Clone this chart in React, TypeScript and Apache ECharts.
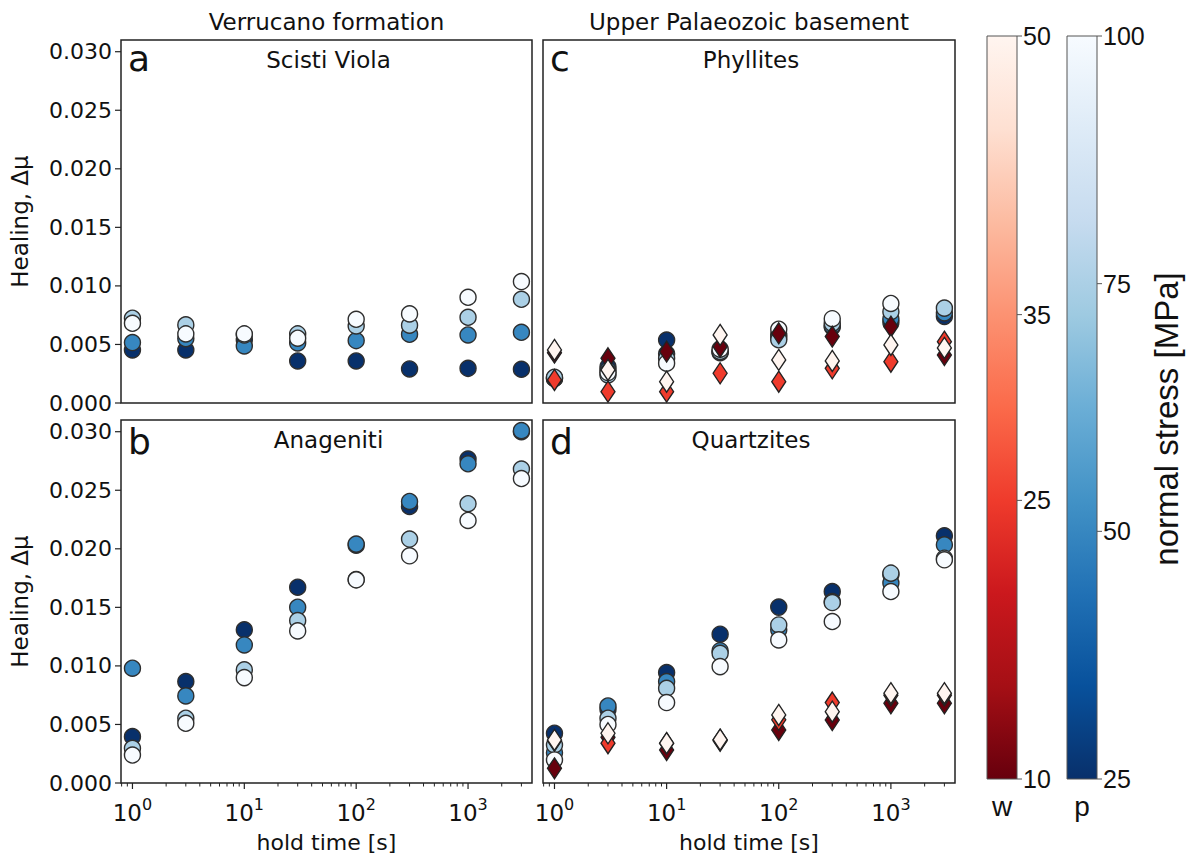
import React, { useEffect, useRef } from 'react';
import * as echarts from 'echarts';

// ---------------- data ----------------
const holdTimes = [1, 3, 10, 30, 100, 300, 1000, 3000];
const stressLevels = [25, 50, 75, 100]; // normal stress [MPa]
const waterLevels = [10, 25, 50]; // w

// (a) Scisti Viola – healing per normal stress
const sv25 = [0.00453, 0.00453, 0.00538, 0.00359, 0.00359, 0.00291, 0.00296, 0.00288];
const sv50 = [0.00516, 0.0055, 0.00487, 0.00513, 0.00533, 0.00587, 0.00581, 0.00604];
const sv75 = [0.00724, 0.00667, 0.0058, 0.0059, 0.00658, 0.00664, 0.00732, 0.00886];
const sv100 = [0.00681, 0.0059, 0.0059, 0.00553, 0.00715, 0.00761, 0.00903, 0.01037];

// (b) Anageniti
const an25 = [0.00396, 0.00866, 0.01308, 0.01672, 0.0203, 0.02362, 0.02766, 0.03];
const an50 = [0.0098, 0.00744, 0.01179, 0.01501, 0.0204, 0.02404, 0.02726, 0.03009];
const an75 = [0.00296, 0.00553, 0.00966, 0.01387, 0.01738, 0.02083, 0.02385, 0.02681];
const an100 = [0.00239, 0.0051, 0.009, 0.01299, 0.01735, 0.0194, 0.02242, 0.026];

// (c) Phyllites – circles (normal stress)
const ph25 = [0.0021, 0.0031, 0.00538, 0.0043, 0.0058, 0.0065, 0.0069, 0.0074];
const ph50 = [0.0021, 0.0028, 0.0042, 0.0044, 0.0056, 0.0066, 0.0072, 0.0077];
const ph75 = [0.0022, 0.0024, 0.00382, 0.0044, 0.0054, 0.0068, 0.0078, 0.0081];
const ph100 = [null, 0.0026, 0.0034, 0.0046, 0.0063, 0.0072, 0.0085, null];
// (c) Phyllites – diamonds (w)
const phW10 = [0.0043, 0.00382, 0.00439, 0.00481, 0.00595, 0.00567, 0.00652, 0.0041];
const phW25 = [0.00197, 0.00097, 0.00097, 0.00254, 0.00182, 0.00296, 0.00353, 0.00524];
const phW50 = [0.00453, 0.00282, 0.00182, 0.00581, 0.00368, 0.00359, 0.00496, 0.0047];

// (d) Quartzites – circles
const qz25 = [0.00425, 0.0063, 0.00943, 0.01271, 0.01502, 0.01635, 0.0178, 0.02111];
const qz50 = [0.00259, 0.00658, 0.00866, 0.0113, 0.01308, 0.0155, 0.01707, 0.02034];
const qz75 = [0.00325, 0.00553, 0.00809, 0.01108, 0.0135, 0.01541, 0.01792, 0.0192];
const qz100 = [0.00197, 0.005, 0.00687, 0.00994, 0.01222, 0.01379, 0.01635, 0.01906];
// (d) Quartzites – diamonds
const qzW10 = [0.00125, 0.0039, 0.00282, 0.0036, 0.00453, 0.00538, 0.00681, 0.00681];
const qzW25 = [0.0036, 0.0034, 0.0034, 0.0037, 0.0054, 0.00687, 0.0075, 0.0075];
const qzW50 = [0.00368, 0.00425, 0.0034, 0.0037, 0.00581, 0.00609, 0.00767, 0.00767];

// axis / colorbar ticks
const xMajorTicks = [1, 10, 100, 1000];
const yTicks = [0, 0.005, 0.01, 0.015, 0.02, 0.025, 0.03];
const wTicks = [10, 25, 35, 50];
const pTicks = [25, 50, 75, 100];
const W_RANGE = [10, 50];
const P_RANGE = [25, 100];
const X_MIN = 0.79;
const X_MAX = 3730;
const Y_MIN = 0;
const Y_MAX = 0.031;

// ---------------- styling ----------------
const REDS = ['#fff5f0', '#fee0d2', '#fcbba1', '#fc9272', '#fb6a4a', '#ef3b2c', '#cb181d', '#a50f15', '#67000d'];
const BLUES = ['#f7fbff', '#deebf7', '#c6dbef', '#9ecae1', '#6baed6', '#4292c6', '#2171b5', '#08519c', '#08306b'];

function hexToRgb(h: string) {
  const n = parseInt(h.slice(1), 16);
  return [(n >> 16) & 255, (n >> 8) & 255, n & 255];
}
function cmap(stops: string[], t: number) {
  const tt = Math.max(0, Math.min(1, t));
  const pos = tt * (stops.length - 1);
  const i = Math.min(Math.floor(pos), stops.length - 2);
  const f = pos - i;
  const a = hexToRgb(stops[i]);
  const b = hexToRgb(stops[i + 1]);
  const c = a.map((v, k) => Math.round(v + (b[k] - v) * f));
  return `rgb(${c[0]},${c[1]},${c[2]})`;
}
const stressColor = (p: number) => cmap(BLUES, (P_RANGE[1] - p) / (P_RANGE[1] - P_RANGE[0]));
const waterColor = (w: number) => cmap(REDS, (W_RANGE[1] - w) / (W_RANGE[1] - W_RANGE[0]));

const GRIDS = [
  { left: 121, top: 40, width: 411, height: 363 }, // a
  { left: 121, top: 420, width: 411, height: 363 }, // b
  { left: 543, top: 40, width: 412, height: 363 }, // c
  { left: 543, top: 420, width: 412, height: 363 }, // d
];

const panels = [
  { letter: 'a', name: 'Scisti Viola', circles: [sv25, sv50, sv75, sv100], diamonds: null as any, isLeft: true, isBottom: false },
  { letter: 'b', name: 'Anageniti', circles: [an25, an50, an75, an100], diamonds: null as any, isLeft: true, isBottom: true },
  { letter: 'c', name: 'Phyllites', circles: [ph25, ph50, ph75, ph100], diamonds: [phW10, phW25, phW50], isLeft: false, isBottom: false },
  { letter: 'd', name: 'Quartzites', circles: [qz25, qz50, qz75, qz100], diamonds: [qzW10, qzW25, qzW50], isLeft: false, isBottom: true },
];

const AX_FONT = 'DejaVu Sans';
const CB_FONT = 'Liberation Sans';
const INK = '#111';

function toPoints(vals: (number | null)[]) {
  const out: number[][] = [];
  vals.forEach((v, i) => {
    if (v !== null && v !== undefined) out.push([holdTimes[i], v]);
  });
  return out;
}

export default function App() {
  const ref = useRef<HTMLDivElement>(null);
  useEffect(() => {
    if (!ref.current) return;
    const chart = echarts.init(ref.current, null, { renderer: 'svg' });

    const series: any[] = [];
    panels.forEach((p, gi) => {
      p.circles.forEach((vals: any, k: number) => {
        series.push({
          type: 'scatter',
          name: `${p.name} ${stressLevels[k]} MPa`,
          xAxisIndex: gi,
          yAxisIndex: gi,
          symbol: 'circle',
          symbolSize: 16,
          z: 2,
          data: toPoints(vals),
          itemStyle: { color: stressColor(stressLevels[k]), borderColor: '#2e2e2e', borderWidth: 1.4, opacity: 1 },
        });
      });
      if (p.diamonds) {
        p.diamonds.forEach((vals: any, k: number) => {
          series.push({
            type: 'scatter',
            name: `${p.name} w${waterLevels[k]}`,
            xAxisIndex: gi,
            yAxisIndex: gi,
            symbol: 'diamond',
            symbolSize: [14, 21],
            z: 3,
            data: toPoints(vals),
            itemStyle: { color: waterColor(waterLevels[k]), borderColor: '#222', borderWidth: 1.4, opacity: 1 },
          });
        });
      }
    });

    const option: any = {
      animation: false,
      backgroundColor: '#fff',
      grid: GRIDS.map((g) => ({ ...g, show: true, borderColor: '#222', borderWidth: 1.5, backgroundColor: 'transparent' })),
      xAxis: panels.map((p, gi) => ({
        type: 'log',
        logBase: 10,
        gridIndex: gi,
        min: X_MIN,
        max: X_MAX,
        axisLine: { show: false },
        axisTick: { show: false },
        axisLabel: { show: false },
        splitLine: { show: false },
      })),
      yAxis: panels.map((p, gi) => ({
        type: 'value',
        gridIndex: gi,
        min: Y_MIN,
        max: Y_MAX,
        interval: 0.005,
        axisLine: { show: false },
        axisTick: { show: false },
        splitLine: { show: false },
        axisLabel: {
          show: p.isLeft,
          showMaxLabel: false,
          formatter: (v: number) => v.toFixed(3),
          fontSize: 22,
          fontFamily: AX_FONT,
          color: INK,
          margin: 9,
        },
      })),
      series,
    };
    chart.setOption(option);

    // ---- second pass: ticks, labels, colorbars ----
    const px = (gi: number, v: number) => chart.convertToPixel({ xAxisIndex: gi } as any, v) as unknown as number;
    const py = (gi: number, v: number) => chart.convertToPixel({ yAxisIndex: gi } as any, v) as unknown as number;
    const tickStyle = { stroke: '#222', lineWidth: 1.2 };
    const g: any[] = [];

    const minorTicks: number[] = [];
    [0.1, 1, 10, 100, 1000].forEach((d) => {
      for (let m = 2; m <= 9; m++) {
        const v = m * d;
        if (v >= X_MIN && v <= X_MAX) minorTicks.push(v);
      }
    });

    panels.forEach((p, gi) => {
      const gr = GRIDS[gi];
      const bottom = gr.top + gr.height;
      // panel letter and name
      g.push({
        type: 'text', silent: true,
        x: gr.left + 7, y: gr.top + (p.isBottom ? 21 : 18),
        style: { text: p.letter, fontSize: 36, fontFamily: AX_FONT, fill: INK, align: 'left', verticalAlign: 'middle' },
      });
      g.push({
        type: 'text', silent: true,
        x: gr.left + gr.width / 2 + 2, y: gr.top + 20,
        style: { text: p.name, fontSize: 23, fontFamily: AX_FONT, fill: INK, align: 'center', verticalAlign: 'middle' },
      });
      if (p.isBottom) {
        xMajorTicks.forEach((v) => {
          const x = px(gi, v);
          g.push({ type: 'line', silent: true, shape: { x1: x, y1: bottom, x2: x, y2: bottom + 6 }, style: tickStyle });
          const e = Math.round(Math.log10(v));
          g.push({
            type: 'text', silent: true, x, y: bottom + 13,
            style: {
              text: `{b|10}{s|${e}}`,
              align: 'center',
              verticalAlign: 'top',
              rich: {
                b: { fontSize: 23, fontFamily: AX_FONT, fill: INK, lineHeight: 28, verticalAlign: 'bottom' },
                s: { fontSize: 16, fontFamily: AX_FONT, fill: INK, verticalAlign: 'top' },
              },
            },
          });
        });
        minorTicks.forEach((v) => {
          const x = px(gi, v);
          g.push({ type: 'line', silent: true, shape: { x1: x, y1: bottom, x2: x, y2: bottom + 3.5 }, style: { stroke: '#222', lineWidth: 1 } });
        });
        g.push({
          type: 'text', silent: true, x: gr.left + gr.width / 2, y: bottom + 48,
          style: { text: 'hold time [s]', fontSize: 22, fontFamily: AX_FONT, fill: INK, align: 'center', verticalAlign: 'top' },
        });
      }
      if (p.isLeft) {
        yTicks.forEach((v) => {
          const y = py(gi, v);
          g.push({ type: 'line', silent: true, shape: { x1: gr.left - 6, y1: y, x2: gr.left, y2: y }, style: tickStyle });
        });
        g.push({
          type: 'text', silent: true, x: 20, y: gr.top + gr.height / 2, rotation: Math.PI / 2,
          style: { text: 'Healing, Δμ', fontSize: 23, fontFamily: AX_FONT, fill: INK, align: 'center', verticalAlign: 'middle' },
        });
      }
    });

    // column headers
    g.push({
      type: 'text', silent: true, x: GRIDS[0].left + GRIDS[0].width / 2, y: 22,
      style: { text: 'Verrucano formation', fontSize: 23, fontFamily: AX_FONT, fill: INK, align: 'center', verticalAlign: 'middle' },
    });
    g.push({
      type: 'text', silent: true, x: GRIDS[2].left + GRIDS[2].width / 2, y: 22,
      style: { text: 'Upper Palaeozoic basement', fontSize: 23, fontFamily: AX_FONT, fill: INK, align: 'center', verticalAlign: 'middle' },
    });

    // colorbars
    const CB_TOP = 36;
    const CB_BOTTOM = 779;
    const cbH = CB_BOTTOM - CB_TOP;
    const bars = [
      { x: 987, stops: REDS, ticks: wTicks, range: W_RANGE, label: 'w' },
      { x: 1067, stops: BLUES, ticks: pTicks, range: P_RANGE, label: 'p' },
    ];
    bars.forEach((b) => {
      const w = 30;
      g.push({
        type: 'rect', silent: true,
        shape: { x: b.x, y: CB_TOP, width: w, height: cbH },
        style: {
          fill: new echarts.graphic.LinearGradient(0, 0, 0, 1, b.stops.map((c, i) => ({ offset: i / (b.stops.length - 1), color: c }))),
          stroke: '#555', lineWidth: 1,
        },
      });
      b.ticks.forEach((v) => {
        const y = CB_TOP + ((b.range[1] - v) / (b.range[1] - b.range[0])) * cbH;
        g.push({ type: 'line', silent: true, shape: { x1: b.x + w, y1: y, x2: b.x + w + 5, y2: y }, style: { stroke: '#555', lineWidth: 1 } });
        g.push({
          type: 'text', silent: true, x: b.x + w + 6, y,
          style: { text: String(v), fontSize: 25, fontFamily: CB_FONT, fill: INK, align: 'left', verticalAlign: 'middle' },
        });
      });
      g.push({
        type: 'text', silent: true, x: b.x + w / 2, y: 806,
        style: { text: b.label, fontSize: 28, fontFamily: CB_FONT, fill: INK, align: 'center', verticalAlign: 'middle' },
      });
    });
    g.push({
      type: 'text', silent: true, x: 1166, y: 419, rotation: Math.PI / 2,
      style: { text: 'normal stress [MPa]', fontSize: 33, fontFamily: CB_FONT, fill: INK, align: 'center', verticalAlign: 'middle' },
    });

    chart.setOption({ graphic: g });

    return () => chart.dispose();
  }, []);

  return <div ref={ref} style={{ position: 'absolute', left: 0, top: 0, width: 1189, height: 856, background: '#fff' }} />;
}
